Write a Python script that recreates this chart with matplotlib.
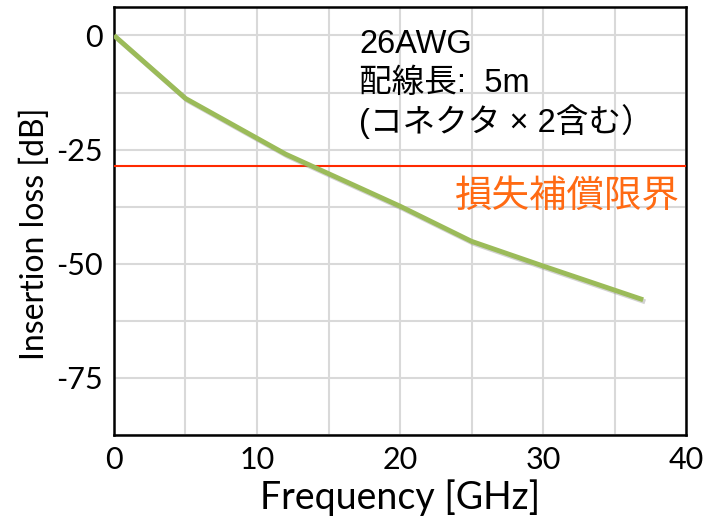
import matplotlib
matplotlib.use("Agg")
import matplotlib.pyplot as plt
import matplotlib.patheffects as pe
from matplotlib.ticker import MultipleLocator

plt.rcParams["axes.unicode_minus"] = False

freq = [0, 5, 12, 20, 25, 30, 37]
loss = [0, -13.8, -26.0, -37.4, -45.1, -50.5, -57.9]
limit = -28.5
x_ticks = [0, 10, 20, 30, 40]
y_ticks = [0, -25, -50, -75]
note_lines = ["26AWG", "配線長:  5m", "(コネクタ × 2含む）"]
limit_label = "損失補償限界"

latin = ["Lato", "DejaVu Sans"]
note_font = ["Liberation Sans", "Noto Sans CJK JP", "DejaVu Sans"]
cjk = ["Noto Sans CJK JP", "DejaVu Sans"]

fig = plt.figure(figsize=(7.08, 5.31), dpi=100)
ax = fig.add_axes([0.161, 0.181, 0.808, 0.806])

ax.set_xlim(0, 40)
ax.set_ylim(-87.5, 6.25)
ax.xaxis.set_minor_locator(MultipleLocator(5))
ax.yaxis.set_minor_locator(MultipleLocator(12.5))
ax.set_xticks(x_ticks)
ax.set_yticks(y_ticks)
ax.grid(True, which="both", color="#d9d9d9", lw=1.5)
ax.set_axisbelow(True)
ax.tick_params(which="both", length=0, pad=8)
for lab in ax.get_xticklabels() + ax.get_yticklabels():
    lab.set_fontfamily(latin)
    lab.set_fontsize(22)
for s in ax.spines.values():
    s.set_linewidth(1.8)
    s.set_color("black")

ax.axhline(limit, color="#ff2a00", lw=1.5, zorder=3)
ax.plot(freq, loss, color="#9bbb59", lw=3.5, solid_capstyle="butt", zorder=4,
        path_effects=[pe.SimpleLineShadow(offset=(1.5, -1.5), shadow_color="gray", alpha=0.35), pe.Normal()])

ax.set_xlabel("Frequency [GHz]", fontfamily=latin, fontsize=27, labelpad=4)
ax.set_ylabel("Insertion loss [dB]", fontfamily=latin, fontsize=23)
ax.yaxis.set_label_coords(-0.112, 0.47)

note_y = [-3.76, -12.4, -21.2]
for ty, line in zip(note_y, note_lines):
    ax.text(17.15, ty, line, fontfamily=note_font, fontsize=23.5, va="baseline", ha="left")
ax.text(39.6, -35.2, limit_label, fontfamily=cjk, fontsize=27, color="#ff6a13",
        va="center", ha="right")

fig.savefig("out.png", dpi=100)
